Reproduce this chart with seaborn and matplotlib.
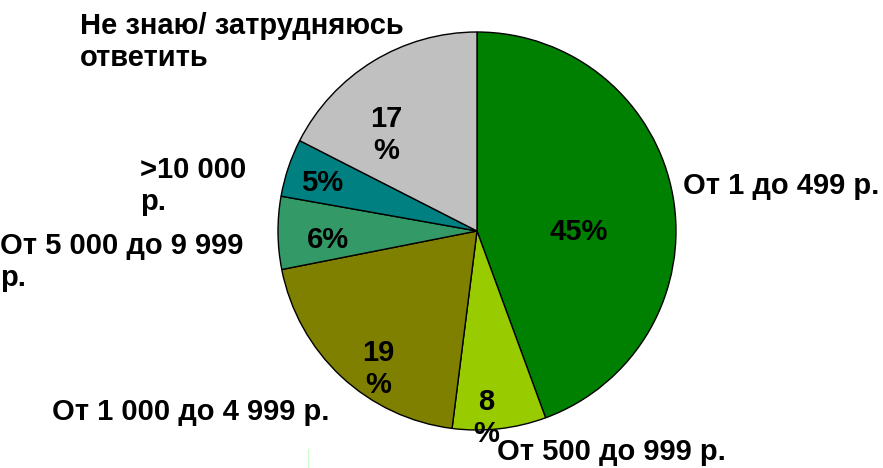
import matplotlib
matplotlib.use("Agg")
import matplotlib.pyplot as plt
import seaborn as sns

categories = ["От 1 до 499 р.", "От 500 до 999 р.", "От 1 000 до 4 999 р.",
              "От 5 000 до 9 999 р.", ">10 000 р.", "Не знаю/ затрудняюсь ответить"]
values = [44.4, 7.6, 19.9, 5.9, 4.7, 17.5]
pct_labels = ["45%", "8\n%", "19\n%", "6%", "5%", "17\n%"]
colors = ["#008000", "#99CC00", "#808000", "#339966", "#008080", "#C0C0C0"]

sns.set_theme(style="white")
plt.rcParams['font.family'] = ['Liberation Sans', 'DejaVu Sans']

W, H = 883, 468
fig = plt.figure(figsize=(W / 100, H / 100), dpi=100)
ax = fig.add_axes([0, 0, 1, 1])
ax.set_xlim(0, W)
ax.set_ylim(0, H)
ax.set_aspect("equal")
ax.axis("off")

cx, cy, r = 477, H - 231, 199
ax.pie(values, colors=colors, startangle=90, counterclock=False,
       center=(cx, cy), radius=r,
       wedgeprops=dict(edgecolor="black", linewidth=1.0))
ax.set_xlim(0, W)
ax.set_ylim(0, H)

def T(x, y, s, ha="left", va="center", **kw):
    ax.text(x, H - y, s, ha=ha, va=va, fontsize=21, fontweight="bold",
            color="black", linespacing=1.22, **kw)

# percentage labels
pct_pos = [(579, 232), (486, 418), (378, 369), (328, 240), (322, 183), (386, 135)]
for (x, y), s in zip(pct_pos, pct_labels):
    T(x, y, s, ha="center")

# category labels
T(683, 186, categories[0])
T(497, 452, categories[1])
T(52, 412, categories[2])
T(0, 262, "От 5 000 до 9 999\nр.")
T(140, 186, ">10 000\nр.")
T(80, 42, "Не знаю/ затрудняюсь\nответить")

ax.plot([308, 308], [0, H - 449], color="#ccffcc", linewidth=1)

fig.savefig("out.png", dpi=100)
